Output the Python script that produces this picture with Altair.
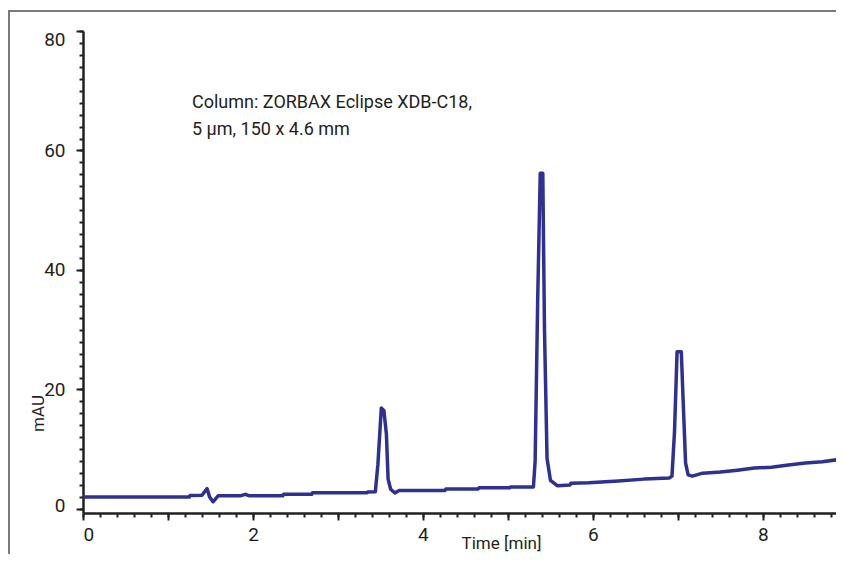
import altair as alt
import pandas as pd

# ---- data ----
time_min = [0.00, 1.25, 1.26, 1.40, 1.46, 1.49, 1.53, 1.59, 1.85, 1.91, 1.96,
            2.35, 2.36, 2.69, 2.70, 3.34, 3.35, 3.44, 3.47, 3.51, 3.54, 3.57,
            3.59, 3.62, 3.67, 3.72, 4.26, 4.27, 4.65, 4.66, 5.02, 5.03, 5.30,
            5.32, 5.35, 5.38, 5.41, 5.43, 5.46, 5.50, 5.58, 5.73, 5.74, 5.95,
            6.30, 6.60, 6.90, 6.93, 6.96, 6.99, 7.04, 7.06, 7.09, 7.12, 7.17,
            7.29, 7.50, 7.70, 7.90, 8.10, 8.30, 8.50, 8.70, 8.95]
mau = [2.0, 2.0, 2.25, 2.3, 3.4, 2.0, 1.2, 2.2, 2.2, 2.45, 2.2,
       2.2, 2.45, 2.45, 2.7, 2.7, 2.85, 2.9, 7.5, 16.9, 16.5, 12.5,
       5.0, 3.3, 2.7, 3.1, 3.1, 3.35, 3.35, 3.55, 3.55, 3.7, 3.7,
       8.0, 35.0, 56.2, 56.2, 30.0, 8.5, 4.8, 3.9, 4.0, 4.3, 4.4,
       4.7, 5.0, 5.2, 5.5, 13.0, 26.3, 26.3, 18.7, 7.7, 5.7, 5.5,
       6.0, 6.2, 6.5, 6.85, 7.0, 7.35, 7.7, 7.9, 8.4]

x_major = [0, 1, 2, 3, 4, 5, 6, 7, 8]
x_minor = [0, 0.2, 0.4, 0.6, 0.8, 1, 1.2, 1.4, 1.6, 1.8, 2, 2.2, 2.4, 2.6, 2.8,
           3, 3.2, 3.4, 3.6, 3.8, 4, 4.2, 4.4, 4.6, 4.8, 5, 5.2, 5.4, 5.6, 5.8,
           6, 6.2, 6.4, 6.6, 6.8, 7, 7.2, 7.4, 7.6, 7.8, 8, 8.2, 8.4, 8.6, 8.8]
y_major = [0, 20, 40, 60, 80]
y_minor = [0, 2, 4, 6, 8, 10, 12, 14, 16, 18, 20, 22, 24, 26, 28, 30, 32, 34,
           36, 38, 40, 42, 44, 46, 48, 50, 52, 54, 56, 58, 60, 62, 64, 66, 68,
           70, 72, 74, 76, 78, 80]
annotation = "Column: ZORBAX Eclipse XDB-C18,\n5 µm, 150 x 4.6 mm"
x_title = "Time [min]"
y_title = "mAU"

FONT = "Roboto"
INK = "#231f20"
LINE = "#2e3192"

df = pd.DataFrame({"t": time_min, "mAU": mau})
one = pd.DataFrame({"a": [0]})

xscale = alt.Scale(domain=[0, 8.86], nice=False, zero=False)
yscale = alt.Scale(domain=[-0.67, 80], nice=False, zero=False)

minor = alt.Chart(df).mark_line(opacity=0).encode(
    x=alt.X("t:Q", scale=xscale, axis=alt.Axis(
        values=x_minor, tickSize=4, tickWidth=2, tickColor=INK, labels=False,
        domain=False, grid=False, title=None, orient="bottom")),
    y=alt.Y("mAU:Q", scale=yscale, axis=alt.Axis(
        values=y_minor, tickSize=4, tickWidth=2, tickColor=INK, labels=False,
        domain=False, grid=False, title=None, orient="left")),
)

line = alt.Chart(df).mark_line(color=LINE, strokeWidth=3.5, strokeJoin="round", clip=True).encode(
    x=alt.X("t:Q", scale=xscale, axis=alt.Axis(
        values=x_major, tickSize=7, tickWidth=2, tickColor=INK,
        domainColor=INK, domainWidth=2.5, grid=False, orient="bottom",
        labelExpr="datum.value % 2 == 0 ? datum.label : ''",
        labelFont=FONT, labelFontSize=19, labelColor=INK, labelPadding=5,
        title=x_title, titleFont=FONT, titleFontSize=17, titleFontWeight="normal",
        titleColor=INK, titleX=418, titleY=35, titleAlign="center",
        titleBaseline="alphabetic")),
    y=alt.Y("mAU:Q", scale=yscale, axis=alt.Axis(
        values=y_major, tickSize=7, tickWidth=2, tickColor=INK,
        domainColor=INK, domainWidth=2.5, grid=False, orient="left",
        labelFont=FONT, labelFontSize=19, labelColor=INK, labelPadding=11,
        labelOffset={"condition": [{"test": "datum.value == 80", "value": 8},
                                   {"test": "datum.value == 0", "value": -3}],
                     "value": 0},
        title=y_title, titleFont=FONT, titleFontSize=17, titleFontWeight="normal",
        titleColor=INK, titleX=-45, titleY=382, titleAlign="center",
        titleBaseline="middle")),
)

note = alt.Chart(one).mark_text(
    align="left", baseline="middle", lineBreak="\n", lineHeight=27,
    font=FONT, fontSize=18, color=INK,
).encode(x=alt.value(109), y=alt.value(72), text=alt.value(annotation))

frame_left = alt.Chart(one).mark_rule(color="#7a7a7a", strokeWidth=2).encode(
    x=alt.value(-74), y=alt.value(-20), y2=alt.value(540))
frame_top = alt.Chart(one).mark_rule(color="#7a7a7a", strokeWidth=2).encode(
    x=alt.value(-75), x2=alt.value(800), y=alt.value(-20))

chart = alt.layer(minor, line, note, frame_left, frame_top).resolve_axis(
    x="independent", y="independent"
).properties(
    width=753, height=482,
    padding={"left": 75, "top": 23, "right": 0, "bottom": 41},
    autosize=alt.AutoSizeParams(type="none"),
    background="white",
).configure_view(stroke=None)

chart.save("out.html", embed_options={"renderer": "svg", "actions": False})
